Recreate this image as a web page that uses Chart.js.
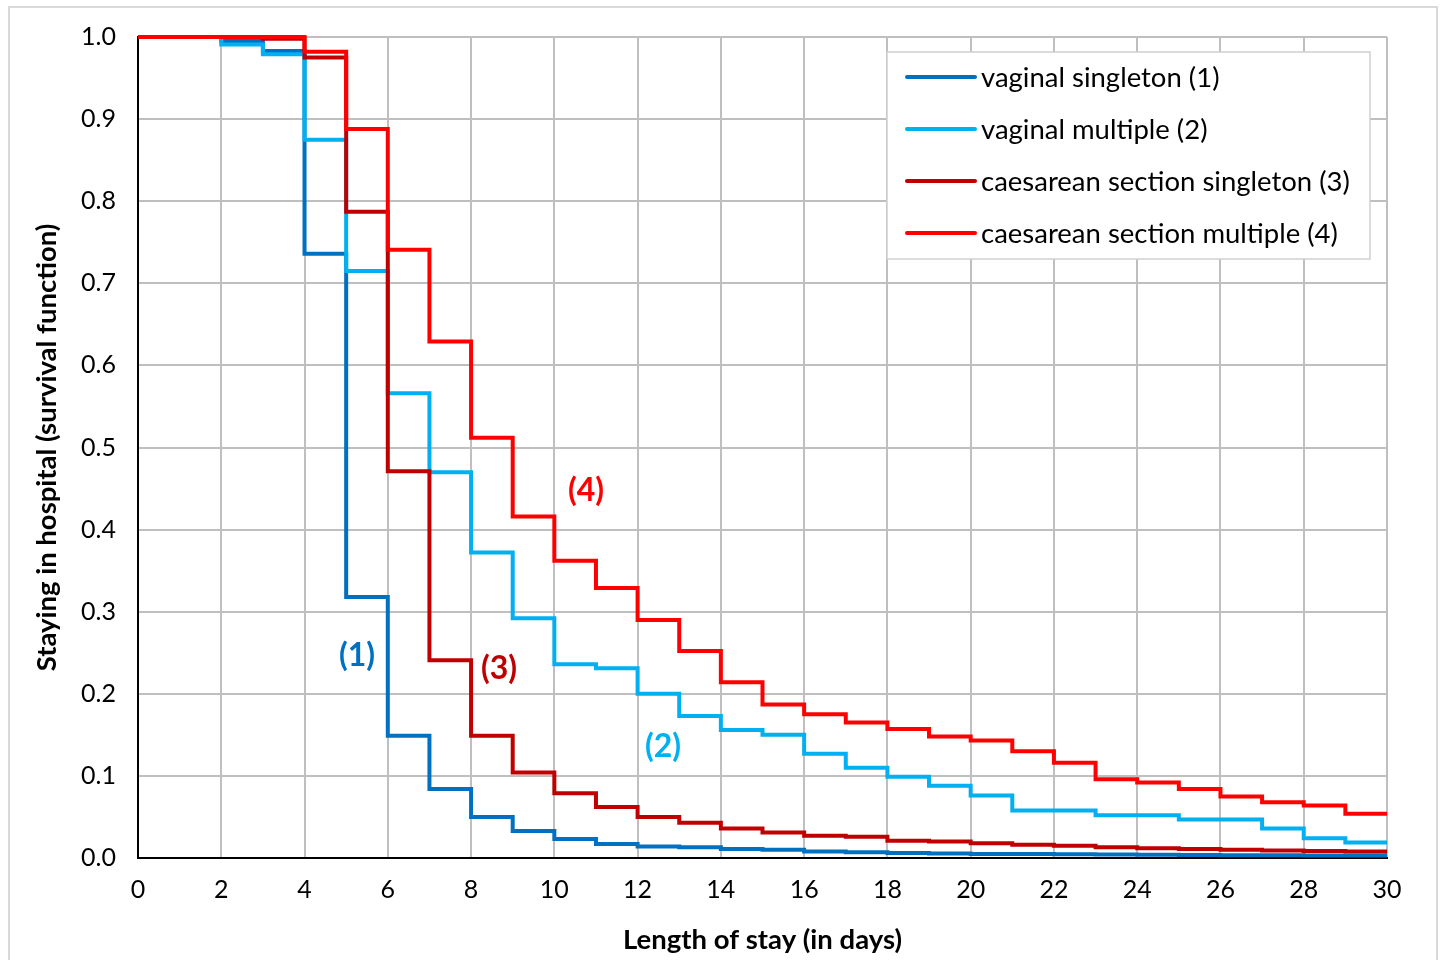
<!DOCTYPE html>
<html>
<head>
<meta charset="utf-8">
<script src="https://cdn.jsdelivr.net/npm/chart.js@4.4.1/dist/chart.umd.min.js"></script>
<style>
  html, body { margin: 0; padding: 0; background: #ffffff; }
  #wrap { width: 1446px; height: 960px; position: relative; }
</style>
</head>
<body>
<div id="wrap"><canvas id="chart"></canvas></div>
<script>
// ---- data (value at index i = survival over the interval [day i, day i+1); last repeats) ----
const days = [0,1,2,3,4,5,6,7,8,9,10,11,12,13,14,15,16,17,18,19,20,21,22,23,24,25,26,27,28,29,30];
const vaginalSingleton = [1.0,1.0,0.995,0.983,0.736,0.318,0.149,0.084,0.050,0.033,0.023,0.017,0.014,0.013,0.011,0.010,0.008,0.007,0.006,0.0055,0.005,0.0048,0.0045,0.0042,0.004,0.0037,0.0035,0.0032,0.003,0.003,0.003];
const vaginalMultiple = [1.0,1.0,0.991,0.979,0.875,0.715,0.566,0.470,0.372,0.292,0.236,0.231,0.200,0.173,0.156,0.150,0.127,0.110,0.099,0.088,0.076,0.058,0.058,0.052,0.052,0.047,0.047,0.036,0.024,0.019,0.019];
const caesareanSingleton = [1.0,1.0,1.0,0.998,0.975,0.787,0.471,0.241,0.149,0.104,0.079,0.062,0.050,0.043,0.036,0.031,0.027,0.026,0.021,0.020,0.018,0.016,0.015,0.013,0.012,0.011,0.010,0.009,0.0085,0.008,0.008];
const caesareanMultiple = [1.0,1.0,1.0,1.0,0.982,0.888,0.741,0.629,0.512,0.416,0.362,0.329,0.290,0.252,0.214,0.187,0.175,0.165,0.157,0.148,0.143,0.130,0.116,0.096,0.092,0.084,0.075,0.068,0.064,0.054,0.054];
const seriesLabels = ['vaginal singleton (1)','vaginal multiple (2)','caesarean section singleton (3)','caesarean section multiple (4)'];
const curveTags = ['(1)','(2)','(3)','(4)'];
const curveTagX = [5.26, 12.61, 8.67, 10.76];
const curveTagY = [0.247, 0.136, 0.231, 0.448];
const xAxisTitle = 'Length of stay (in days)';
const yAxisTitle = 'Staying in hospital (survival function)';

const colors = ['#0070C0', '#00B0F0', '#C00000', '#FF0000'];
const allSeries = [vaginalSingleton, vaginalMultiple, caesareanSingleton, caesareanMultiple];

const FONT = 'Lato, "Open Sans", sans-serif';
Chart.defaults.font.family = FONT;
Chart.defaults.color = '#000000';

const datasets = allSeries.map((vals, i) => ({
  label: seriesLabels[i],
  data: days.map((d, k) => ({ x: d, y: vals[k] })),
  borderColor: colors[i],
  backgroundColor: colors[i],
  borderWidth: 4,
  pointRadius: 0,
  stepped: 'before',
  fill: false,
  clip: 4,
  order: 4 - i
}));

const decorPlugin = {
  id: 'decor',
  beforeDraw(chart) {
    const ctx = chart.ctx;
    ctx.save();
    ctx.fillStyle = '#ffffff';
    ctx.fillRect(0, 0, chart.width, chart.height);
    ctx.strokeStyle = '#D9D9D9';
    ctx.lineWidth = 2;
    ctx.strokeRect(9, 7, chart.width - 18, chart.height + 20);
    ctx.restore();
  },
  afterDraw(chart) {
    const ctx = chart.ctx;
    const xs = chart.scales.x, ys = chart.scales.y;
    const area = chart.chartArea;
    ctx.save();
    // curve tags
    ctx.font = 'bold 32px ' + FONT;
    ctx.textAlign = 'center';
    ctx.textBaseline = 'middle';
    curveTags.forEach((t, i) => {
      ctx.fillStyle = colors[i];
      ctx.fillText(t, xs.getPixelForValue(curveTagX[i]), ys.getPixelForValue(curveTagY[i]));
    });
    // legend box
    const boxR = area.right - 17, boxL = boxR - 483, boxT = area.top + 15, boxB = boxT + 207;
    ctx.fillStyle = '#ffffff';
    ctx.fillRect(boxL, boxT, boxR - boxL, boxB - boxT);
    ctx.strokeStyle = '#D0D0D0';
    ctx.lineWidth = 1.5;
    ctx.strokeRect(boxL, boxT, boxR - boxL, boxB - boxT);
    ctx.font = '27.5px ' + FONT;
    ctx.textAlign = 'left';
    ctx.textBaseline = 'middle';
    chart.data.datasets.forEach((ds, i) => {
      const y = boxT + 25 + i * 52;
      ctx.strokeStyle = ds.borderColor;
      ctx.lineWidth = 4;
      ctx.lineCap = 'round';
      ctx.beginPath();
      ctx.moveTo(boxL + 20, y);
      ctx.lineTo(boxL + 88, y);
      ctx.stroke();
      ctx.fillStyle = '#000000';
      ctx.fillText(ds.label, boxL + 94, y + 1);
    });
    ctx.restore();
  }
};

new Chart(document.getElementById('chart'), {
  type: 'line',
  data: { datasets },
  plugins: [decorPlugin],
  options: {
    responsive: true,
    maintainAspectRatio: false,
    animation: false,
    layout: { padding: { top: 36, right: 59, left: 0, bottom: 0 } },
    plugins: { legend: { display: false }, tooltip: { enabled: false } },
    scales: {
      x: {
        type: 'linear',
        min: 0, max: 30,
        afterFit(s) { s.height = 102; },
        ticks: { stepSize: 2, padding: 17, font: { size: 25 }, color: '#000000', maxRotation: 0 },
        grid: { color: '#BFBFBF', lineWidth: 2, drawTicks: false },
        border: { color: '#000000', width: 2 },
        title: { display: true, text: xAxisTitle, font: { size: 27.5, weight: 'bold' }, color: '#000000', padding: { top: 0, bottom: 3 } }
      },
      y: {
        type: 'linear',
        min: 0, max: 1,
        afterFit(s) { s.width = 138; },
        ticks: { stepSize: 0.1, padding: 22, font: { size: 25 }, color: '#000000', callback: v => Number(v).toFixed(1) },
        grid: { color: '#BFBFBF', lineWidth: 2, drawTicks: false },
        border: { color: '#000000', width: 2 },
        title: { display: true, text: yAxisTitle, font: { size: 27.5, weight: 'bold' }, color: '#000000', padding: { top: 31, bottom: 0 } }
      }
    }
  }
});
</script>
</body>
</html>
